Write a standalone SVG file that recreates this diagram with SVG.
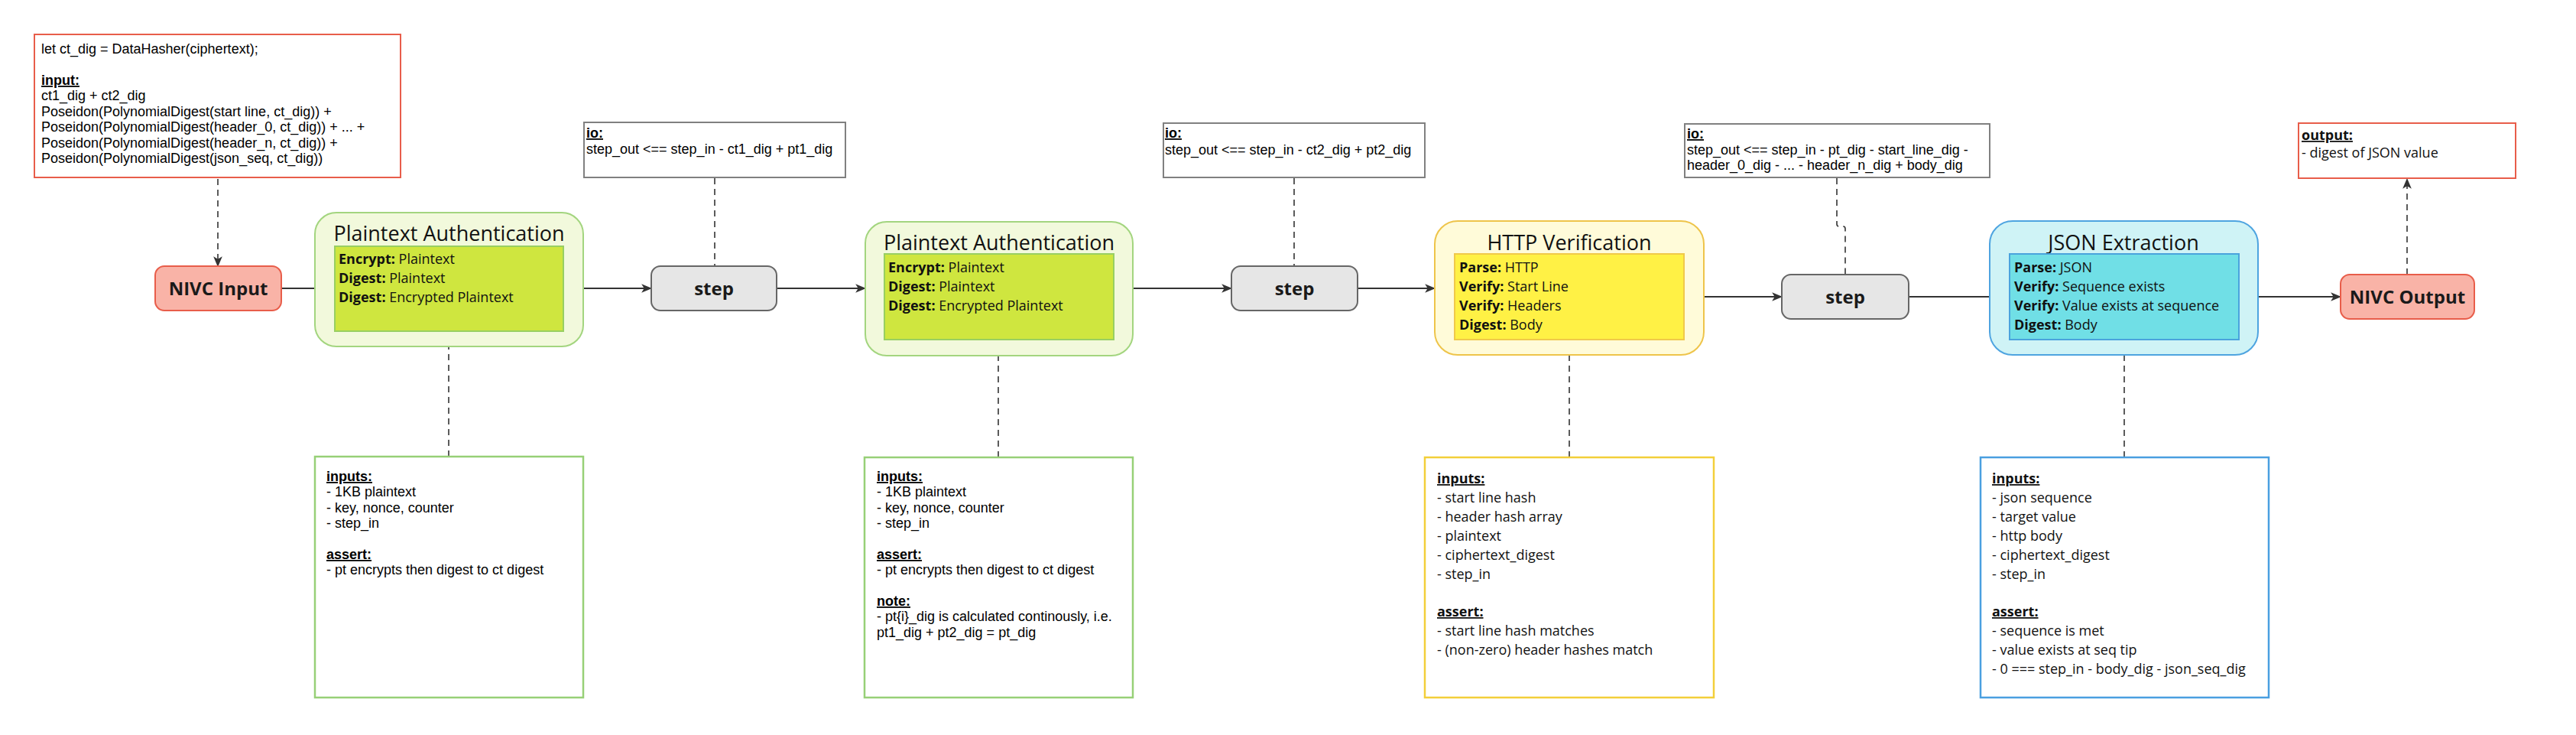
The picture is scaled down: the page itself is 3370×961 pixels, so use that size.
<svg xmlns="http://www.w3.org/2000/svg" width="3370" height="961" viewBox="0 0 3370 961">
<defs>
<marker id="arr" viewBox="0 0 12 10" refX="11" refY="5" markerWidth="14" markerHeight="12" markerUnits="userSpaceOnUse" orient="auto">
<path d="M0,0 L12,5 L0,10 L3,5 z" fill="#333333"/>
</marker>
<style>
.flow{fill:none;stroke:#333333;stroke-width:2}
.dash{fill:none;stroke:#333333;stroke-width:1.6;stroke-dasharray:8 6}
.arial{font-family:"Liberation Sans",Arial,sans-serif;font-size:18px;fill:#000}
.open{font-family:"Open Sans","Noto Sans",sans-serif;font-size:18px;fill:#111}
.title{font-family:"Open Sans","Noto Sans",sans-serif;font-size:27px;fill:#111;text-anchor:middle}
.lbl{font-family:"Open Sans","Noto Sans",sans-serif;font-size:24px;font-weight:bold;fill:#1a1a1a;text-anchor:middle}
.b{font-weight:bold}
.u{font-weight:bold;text-decoration:underline}
.nivc{fill:#f9b3a7;stroke:#e85d4a;stroke-width:2}
.step{fill:#e6e6e6;stroke:#666666;stroke-width:2}
.iobox{fill:#ffffff;stroke:#808080;stroke-width:2}
.redbox{fill:#ffffff;stroke:#e85d4a;stroke-width:2}
</style>
</defs>
<rect width="3370" height="961" fill="#ffffff"/>

<g id="connectors">
<path class="flow" d="M368 377 H438" marker-end="url(#arr)"/>
<path class="flow" d="M737 377 H852" marker-end="url(#arr)"/>
<path class="flow" d="M1016 377 H1132" marker-end="url(#arr)"/>
<path class="flow" d="M1482 377 H1611" marker-end="url(#arr)"/>
<path class="flow" d="M1776 377 H1877" marker-end="url(#arr)"/>
<path class="flow" d="M2203 388 H2331" marker-end="url(#arr)"/>
<path class="flow" d="M2497 388 H2629" marker-end="url(#arr)"/>
<path class="flow" d="M2929 388 H3062" marker-end="url(#arr)"/>
<path class="dash" d="M285 234 V348" marker-end="url(#arr)"/>
<path class="dash" d="M935 233 V348"/>
<path class="dash" d="M1693 233 V348"/>
<path class="dash" d="M2403 233 V293 Q2403 296 2406 296 H2411 Q2414 296 2414 299 V359"/>
<path class="dash" d="M3149 359 V234" marker-end="url(#arr)"/>
<path class="dash" d="M587 597 V434" marker-end="url(#arr)"/>
<path class="dash" d="M1306 598 V445" marker-end="url(#arr)"/>
<path class="dash" d="M2053 598 V445" marker-end="url(#arr)"/>
<path class="dash" d="M2779 598 V445" marker-end="url(#arr)"/>
</g>

<g id="input-note">
<rect class="redbox" x="45" y="45" width="479" height="187"/>
<text class="arial" x="54" y="70">let ct_dig = DataHasher(ciphertext);</text>
<text class="arial" x="54" y="111"><tspan class="u">input:</tspan></text>
<text class="arial" x="54" y="131">ct1_dig + ct2_dig</text>
<text class="arial" x="54" y="152">Poseidon(PolynomialDigest(start line, ct_dig)) +</text>
<text class="arial" x="54" y="172">Poseidon(PolynomialDigest(header_0, ct_dig)) + ... +</text>
<text class="arial" x="54" y="193">Poseidon(PolynomialDigest(header_n, ct_dig)) +</text>
<text class="arial" x="54" y="213">Poseidon(PolynomialDigest(json_seq, ct_dig))</text>
</g>

<g id="nivc-input">
<rect class="nivc" x="203" y="348" width="165" height="58" rx="12"/>
<text class="lbl" x="285.5" y="386">NIVC Input</text>
</g>

<g id="pa1">
<rect x="412" y="278" width="351" height="175" rx="28" fill="#f2f9dc" stroke="#a3d57f" stroke-width="2"/>
<text class="title" x="587.5" y="315">Plaintext Authentication</text>
<rect x="438" y="322" width="299" height="111" fill="#cfe63f" stroke="#98cf62" stroke-width="2"/>
<text class="open" x="443" y="345"><tspan class="b">Encrypt:</tspan> Plaintext</text>
<text class="open" x="443" y="370"><tspan class="b">Digest:</tspan> Plaintext</text>
<text class="open" x="443" y="395"><tspan class="b">Digest:</tspan> Encrypted Plaintext</text>
</g>

<g id="pa1-note">
<rect x="412" y="597" width="351" height="315" fill="#ffffff" stroke="#97d077" stroke-width="2.5"/>
<text class="arial" x="427" y="629"><tspan class="u">inputs:</tspan></text>
<text class="arial" x="427" y="649">- 1KB plaintext</text>
<text class="arial" x="427" y="670">- key, nonce, counter</text>
<text class="arial" x="427" y="690">- step_in</text>
<text class="arial" x="427" y="731"><tspan class="u">assert:</tspan></text>
<text class="arial" x="427" y="751">- pt encrypts then digest to ct digest</text>
</g>

<g id="io1">
<rect class="iobox" x="764" y="160" width="342" height="72"/>
<text class="arial" x="767" y="180"><tspan class="u">io:</tspan></text>
<text class="arial" x="767" y="201">step_out &lt;== step_in - ct1_dig + pt1_dig</text>
</g>

<g id="step1">
<rect class="step" x="852" y="348" width="164" height="58" rx="12"/>
<text class="lbl" x="934" y="386">step</text>
</g>

<g id="pa2">
<rect x="1132" y="290" width="350" height="175" rx="28" fill="#f2f9dc" stroke="#a3d57f" stroke-width="2"/>
<text class="title" x="1307" y="327">Plaintext Authentication</text>
<rect x="1157" y="332" width="300" height="112" fill="#cfe63f" stroke="#98cf62" stroke-width="2"/>
<text class="open" x="1162" y="356"><tspan class="b">Encrypt:</tspan> Plaintext</text>
<text class="open" x="1162" y="381"><tspan class="b">Digest:</tspan> Plaintext</text>
<text class="open" x="1162" y="406"><tspan class="b">Digest:</tspan> Encrypted Plaintext</text>
</g>

<g id="pa2-note">
<rect x="1131" y="598" width="351" height="314" fill="#ffffff" stroke="#97d077" stroke-width="2.5"/>
<text class="arial" x="1147" y="629"><tspan class="u">inputs:</tspan></text>
<text class="arial" x="1147" y="649">- 1KB plaintext</text>
<text class="arial" x="1147" y="670">- key, nonce, counter</text>
<text class="arial" x="1147" y="690">- step_in</text>
<text class="arial" x="1147" y="731"><tspan class="u">assert:</tspan></text>
<text class="arial" x="1147" y="751">- pt encrypts then digest to ct digest</text>
<text class="arial" x="1147" y="792"><tspan class="u">note:</tspan></text>
<text class="arial" x="1147" y="812">- pt{i}_dig is calculated continously, i.e.</text>
<text class="arial" x="1147" y="833">pt1_dig + pt2_dig = pt_dig</text>
</g>

<g id="io2">
<rect class="iobox" x="1522" y="161" width="342" height="71"/>
<text class="arial" x="1524" y="180"><tspan class="u">io:</tspan></text>
<text class="arial" x="1524" y="202">step_out &lt;== step_in - ct2_dig + pt2_dig</text>
</g>

<g id="step2">
<rect class="step" x="1611" y="348" width="165" height="58" rx="12"/>
<text class="lbl" x="1693.5" y="386">step</text>
</g>

<g id="http">
<rect x="1877" y="289" width="352" height="175" rx="30" fill="#fffbd9" stroke="#eec44a" stroke-width="2"/>
<text class="title" x="2053" y="327">HTTP Verification</text>
<rect x="1903" y="332" width="300" height="112" fill="#fff145" stroke="#f0c94a" stroke-width="2"/>
<text class="open" x="1909" y="356"><tspan class="b">Parse:</tspan> HTTP</text>
<text class="open" x="1909" y="381"><tspan class="b">Verify:</tspan> Start Line</text>
<text class="open" x="1909" y="406"><tspan class="b">Verify:</tspan> Headers</text>
<text class="open" x="1909" y="431"><tspan class="b">Digest:</tspan> Body</text>
</g>

<g id="http-note">
<rect x="1864" y="598" width="378" height="314" fill="#ffffff" stroke="#f3cf3a" stroke-width="2.5"/>
<text class="open" x="1880" y="632"><tspan class="u">inputs:</tspan></text>
<text class="open" x="1880" y="657">- start line hash</text>
<text class="open" x="1880" y="682">- header hash array</text>
<text class="open" x="1880" y="707">- plaintext</text>
<text class="open" x="1880" y="732">- ciphertext_digest</text>
<text class="open" x="1880" y="757">- step_in</text>
<text class="open" x="1880" y="806"><tspan class="u">assert:</tspan></text>
<text class="open" x="1880" y="831">- start line hash matches</text>
<text class="open" x="1880" y="856">- (non-zero) header hashes match</text>
</g>

<g id="io3">
<rect class="iobox" x="2204" y="162" width="399" height="70"/>
<text class="arial" x="2207" y="181"><tspan class="u">io:</tspan></text>
<text class="arial" x="2207" y="202">step_out &lt;== step_in - pt_dig - start_line_dig -</text>
<text class="arial" x="2207" y="222">header_0_dig - ... - header_n_dig + body_dig</text>
</g>

<g id="step3">
<rect class="step" x="2331" y="359" width="166" height="58" rx="12"/>
<text class="lbl" x="2414" y="397">step</text>
</g>

<g id="json">
<rect x="2603" y="289" width="351" height="175" rx="30" fill="#cff3f6" stroke="#4ea4e0" stroke-width="2"/>
<text class="title" x="2778" y="327">JSON Extraction</text>
<rect x="2629" y="332" width="300" height="112" fill="#70dfe6" stroke="#4aa3dd" stroke-width="2"/>
<text class="open" x="2635" y="356"><tspan class="b">Parse:</tspan> JSON</text>
<text class="open" x="2635" y="381"><tspan class="b">Verify:</tspan> Sequence exists</text>
<text class="open" x="2635" y="406"><tspan class="b">Verify:</tspan> Value exists at sequence</text>
<text class="open" x="2635" y="431"><tspan class="b">Digest:</tspan> Body</text>
</g>

<g id="json-note">
<rect x="2591" y="598" width="377" height="314" fill="#ffffff" stroke="#4a9fe0" stroke-width="2.5"/>
<text class="open" x="2606" y="632"><tspan class="u">inputs:</tspan></text>
<text class="open" x="2606" y="657">- json sequence</text>
<text class="open" x="2606" y="682">- target value</text>
<text class="open" x="2606" y="707">- http body</text>
<text class="open" x="2606" y="732">- ciphertext_digest</text>
<text class="open" x="2606" y="757">- step_in</text>
<text class="open" x="2606" y="806"><tspan class="u">assert:</tspan></text>
<text class="open" x="2606" y="831">- sequence is met</text>
<text class="open" x="2606" y="856">- value exists at seq tip</text>
<text class="open" x="2606" y="881">- 0 === step_in - body_dig - json_seq_dig</text>
</g>

<g id="nivc-output">
<rect class="nivc" x="3062" y="359" width="175" height="58" rx="12"/>
<text class="lbl" x="3149.5" y="397">NIVC Output</text>
</g>

<g id="output-note">
<rect class="redbox" x="3007" y="161" width="284" height="72"/>
<text class="open" x="3011" y="183"><tspan class="u">output:</tspan></text>
<text class="open" x="3011" y="206">- digest of JSON value</text>
</g>
</svg>
